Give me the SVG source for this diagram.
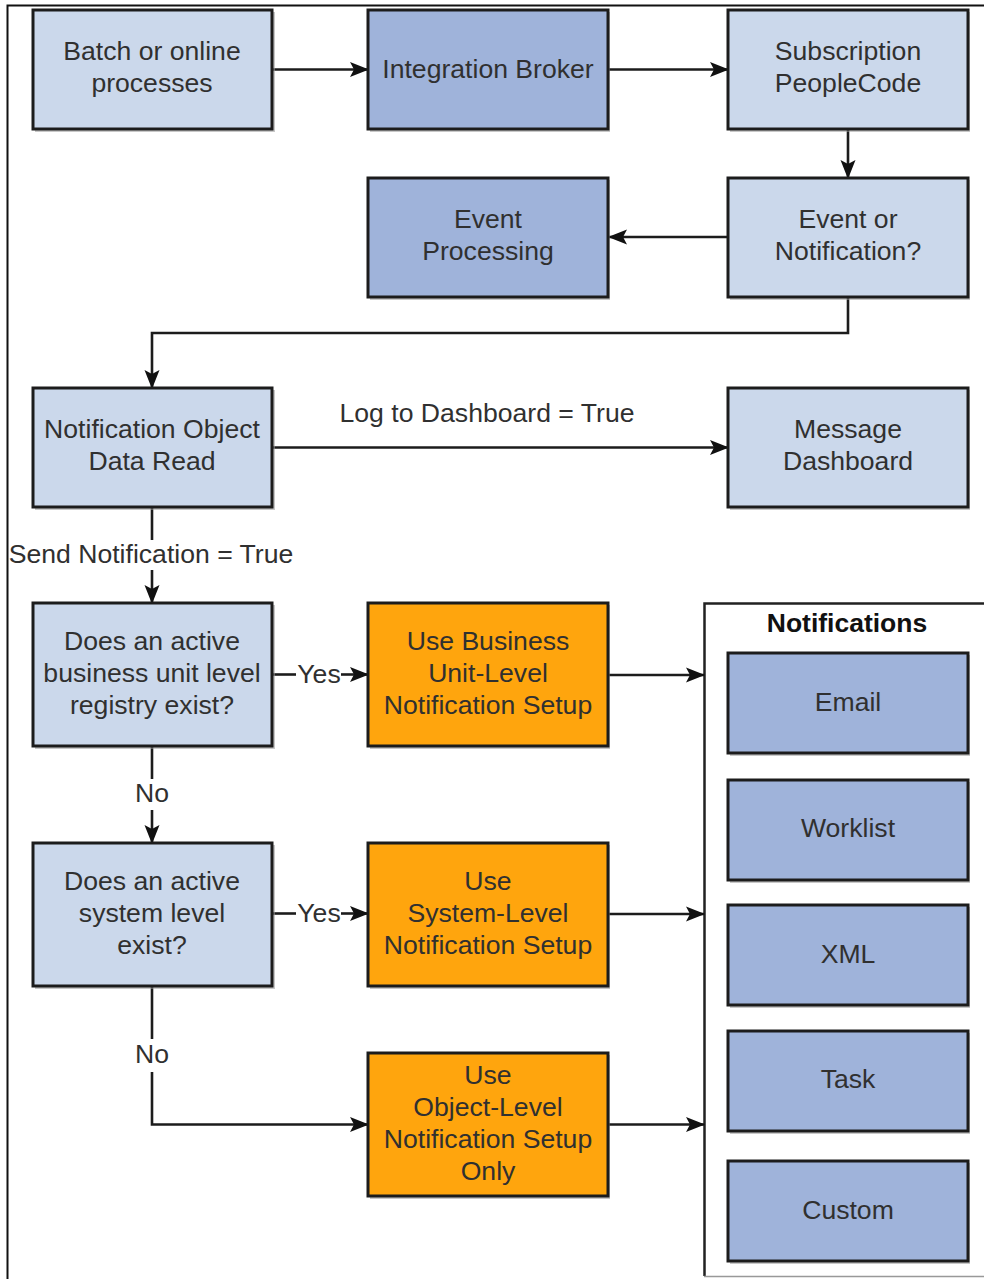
<svg xmlns="http://www.w3.org/2000/svg" width="984" height="1279" viewBox="0 0 984 1279">
<defs>
<style>
.lt{fill:#cbd8eb;stroke:#1c1c1c;stroke-width:3}
.dk{fill:#9fb3da;stroke:#1c1c1c;stroke-width:3}
.or{fill:#ffa50d;stroke:#1c1c1c;stroke-width:3}
.sh{fill:#9a9a9a;opacity:0.55}
text{font-family:"Liberation Sans",Arial,sans-serif;font-size:26.6px;fill:#303030;text-anchor:middle}
.b{font-weight:bold;font-size:26.5px;fill:#111}
.c{fill:none;stroke:#1c1c1c;stroke-width:2.6}
.a{marker-end:url(#ah)}
</style>
<marker id="ah" markerUnits="userSpaceOnUse" markerWidth="20" markerHeight="18" refX="18" refY="9" orient="auto">
<path d="M0,1.5 L19,9 L0,16.5 L4,9 Z" fill="#111"/>
</marker>
</defs>
<rect width="984" height="1279" fill="#ffffff"/>
<g id="frame" fill="none" stroke="#111" stroke-width="2">
<path d="M7.5,1279 V5.5 H984"/>
</g>
<g id="notifications">
<path d="M704.5,1276 V603.5 H984" fill="none" stroke="#222" stroke-width="2.5"/>
<line x1="704" y1="1276.5" x2="984" y2="1276.5" stroke="#999" stroke-width="1.5"/>
<text class="b" x="847" y="632">Notifications</text>
</g>
<g id="connectors">
<line class="c a" x1="273" y1="69.5" x2="368" y2="69.5"/>
<line class="c a" x1="609" y1="69.5" x2="728" y2="69.5"/>
<line class="c a" x1="848" y1="130" x2="848" y2="178"/>
<line class="c a" x1="727" y1="237" x2="609" y2="237"/>
<polyline class="c a" points="848,298 848,333 152,333 152,388"/>
<line class="c a" x1="273" y1="447.5" x2="728" y2="447.5"/>
<line class="c" x1="152" y1="508" x2="152" y2="540"/>
<line class="c a" x1="152" y1="570" x2="152" y2="603"/>
<line class="c" x1="273" y1="674.5" x2="296" y2="674.5"/>
<line class="c a" x1="341" y1="674.5" x2="368" y2="674.5"/>
<line class="c a" x1="609" y1="675" x2="704" y2="675"/>
<line class="c" x1="152" y1="747" x2="152" y2="779"/>
<line class="c a" x1="152" y1="810" x2="152" y2="843"/>
<line class="c" x1="273" y1="913.5" x2="296" y2="913.5"/>
<line class="c a" x1="341" y1="913.5" x2="368" y2="913.5"/>
<line class="c a" x1="609" y1="914" x2="704" y2="914"/>
<line class="c" x1="152" y1="987" x2="152" y2="1039"/>
<polyline class="c a" points="152,1072 152,1124.5 368,1124.5"/>
<line class="c a" x1="609" y1="1124.5" x2="704" y2="1124.5"/>
<text x="487" y="422">Log to Dashboard = True</text>
<text x="151" y="563">Send Notification = True</text>
<text x="319" y="683">Yes</text>
<text x="152" y="802">No</text>
<text x="319" y="922">Yes</text>
<text x="152" y="1063">No</text>
</g>
<g id="batch">
<rect class="sh" x="35" y="12" width="240" height="120"/>
<rect class="lt" x="33" y="10" width="239" height="119"/>
<text x="152" y="60">Batch or online</text>
<text x="152" y="92">processes</text>
</g>
<g id="integration-broker">
<rect class="sh" x="370" y="12" width="240" height="120"/>
<rect class="dk" x="368" y="10" width="240" height="119"/>
<text x="488" y="78">Integration Broker</text>
</g>
<g id="subscription">
<rect class="sh" x="730" y="12" width="240" height="120"/>
<rect class="lt" x="728" y="10" width="240" height="119"/>
<text x="848" y="60">Subscription</text>
<text x="848" y="92">PeopleCode</text>
</g>
<g id="event-processing">
<rect class="sh" x="370" y="180" width="240" height="120"/>
<rect class="dk" x="368" y="178" width="240" height="119"/>
<text x="488" y="228">Event</text>
<text x="488" y="260">Processing</text>
</g>
<g id="event-or-notification">
<rect class="sh" x="730" y="180" width="240" height="120"/>
<rect class="lt" x="728" y="178" width="240" height="119"/>
<text x="848" y="228">Event or</text>
<text x="848" y="260">Notification?</text>
</g>
<g id="notification-object">
<rect class="sh" x="35" y="390" width="240" height="120"/>
<rect class="lt" x="33" y="388" width="239" height="119"/>
<text x="152" y="438">Notification Object</text>
<text x="152" y="470">Data Read</text>
</g>
<g id="message-dashboard">
<rect class="sh" x="730" y="390" width="240" height="120"/>
<rect class="lt" x="728" y="388" width="240" height="119"/>
<text x="848" y="438">Message</text>
<text x="848" y="470">Dashboard</text>
</g>
<g id="business-unit-check">
<rect class="sh" x="35" y="605" width="240" height="144"/>
<rect class="lt" x="33" y="603" width="239" height="143"/>
<text x="152" y="650">Does an active</text>
<text x="152" y="682">business unit level</text>
<text x="152" y="714">registry exist?</text>
</g>
<g id="use-business-unit">
<rect class="sh" x="370" y="605" width="240" height="144"/>
<rect class="or" x="368" y="603" width="240" height="143"/>
<text x="488" y="650">Use Business</text>
<text x="488" y="682">Unit-Level</text>
<text x="488" y="714">Notification Setup</text>
</g>
<g id="system-check">
<rect class="sh" x="35" y="845" width="240" height="144"/>
<rect class="lt" x="33" y="843" width="239" height="143"/>
<text x="152" y="890">Does an active</text>
<text x="152" y="922">system level</text>
<text x="152" y="954">exist?</text>
</g>
<g id="use-system">
<rect class="sh" x="370" y="845" width="240" height="144"/>
<rect class="or" x="368" y="843" width="240" height="143"/>
<text x="488" y="890">Use</text>
<text x="488" y="922">System-Level</text>
<text x="488" y="954">Notification Setup</text>
</g>
<g id="use-object">
<rect class="sh" x="370" y="1055" width="240" height="144"/>
<rect class="or" x="368" y="1053" width="240" height="143"/>
<text x="488" y="1084">Use</text>
<text x="488" y="1116">Object-Level</text>
<text x="488" y="1148">Notification Setup</text>
<text x="488" y="1180">Only</text>
</g>
<g id="email">
<rect class="sh" x="730" y="655" width="240" height="101"/>
<rect class="dk" x="728" y="653" width="240" height="100"/>
<text x="848" y="711">Email</text>
</g>
<g id="worklist">
<rect class="sh" x="730" y="782" width="240" height="101"/>
<rect class="dk" x="728" y="780" width="240" height="100"/>
<text x="848" y="837">Worklist</text>
</g>
<g id="xml">
<rect class="sh" x="730" y="907" width="240" height="101"/>
<rect class="dk" x="728" y="905" width="240" height="100"/>
<text x="848" y="963">XML</text>
</g>
<g id="task">
<rect class="sh" x="730" y="1033" width="240" height="101"/>
<rect class="dk" x="728" y="1031" width="240" height="100"/>
<text x="848" y="1088">Task</text>
</g>
<g id="custom">
<rect class="sh" x="730" y="1163" width="240" height="101"/>
<rect class="dk" x="728" y="1161" width="240" height="100"/>
<text x="848" y="1219">Custom</text>
</g>
</svg>
